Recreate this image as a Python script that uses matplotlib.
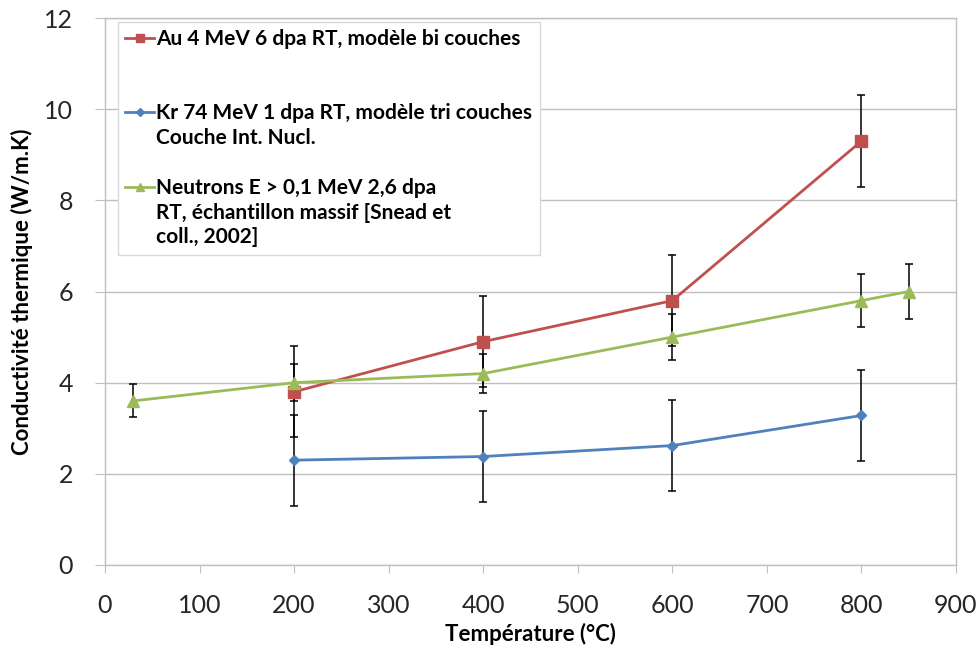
import numpy as np
import matplotlib
matplotlib.use('Agg')
import matplotlib.pyplot as plt
from matplotlib.lines import Line2D

plt.rcParams['font.family'] = ['Lato', 'DejaVu Sans']

# Conductivité thermique en fonction de la température
temp_au = [200, 400, 600, 800]
k_au = [3.8, 4.9, 5.8, 9.3]
err_au = [1.0, 1.0, 1.0, 1.0]

temp_kr = [200, 400, 600, 800]
k_kr = [2.3, 2.38, 2.62, 3.28]
err_kr = [1.0, 1.0, 1.0, 1.0]

temp_n = [30, 200, 400, 600, 800, 850]
k_n = [3.6, 4.0, 4.2, 5.0, 5.8, 6.0]
err_n = [0.36, 0.4, 0.42, 0.5, 0.58, 0.6]

label_au = 'Au 4 MeV 6 dpa RT, modèle bi couches'
label_kr = ['Kr 74 MeV 1 dpa RT, modèle tri couches', 'Couche Int. Nucl.']
label_n = ['Neutrons E > 0,1 MeV 2,6 dpa', 'RT, échantillon massif [Snead et', 'coll., 2002]']

x_ticks = np.arange(0, 1000, 100)
y_ticks = np.arange(0, 14, 2)

c_red = '#C0504D'
c_blue = '#4F81BD'
c_green = '#9BBB59'
c_axis = '#BFBFBF'

fig = plt.figure(figsize=(9.79, 6.54), dpi=100)
ax = fig.add_axes([105 / 979, 89 / 654, 851 / 979, 547 / 654])

err_kw = dict(ecolor='black', elinewidth=1.1, capsize=3, capthick=1.1, lw=2)
ax.errorbar(temp_au, k_au, yerr=err_au, color=c_red, marker='s', ms=8, **err_kw)
ax.errorbar(temp_kr, k_kr, yerr=err_kr, color=c_blue, marker='D', ms=5, **err_kw)
ax.errorbar(temp_n, k_n, yerr=err_n, color=c_green, marker='^', ms=8, **err_kw)

ax.set_xlim(0, 900)
ax.set_ylim(0, 12)
ax.set_xticks(x_ticks)
ax.set_yticks(y_ticks)
ax.yaxis.grid(True, color=c_axis, lw=1)
ax.set_axisbelow(True)
for s in ax.spines.values():
    s.set_color(c_axis)
    s.set_linewidth(1)
ax.tick_params(axis='x', direction='out', length=6, color=c_axis, labelsize=18, pad=15, labelcolor='#262626')
ax.tick_params(axis='y', direction='out', length=7, color=c_axis, labelsize=18, pad=16, labelcolor='#262626')

ax.set_xlabel('Température (°C)', fontsize=16, fontweight='bold', labelpad=4)
ax.set_ylabel('Conductivité thermique (W/m.K)', fontsize=16, fontweight='bold', labelpad=8)

# légende : une ligne de texte par entrée, poignées invisibles pour les suites
blank = Line2D([], [], linestyle='none')
handles = [
    Line2D([], [], color=c_red, marker='s', ms=6, lw=2),
    blank, blank,
    Line2D([], [], color=c_blue, marker='D', ms=4, lw=2),
    blank, blank,
    Line2D([], [], color=c_green, marker='^', ms=6, lw=2),
    blank, blank,
]
labels = [label_au, '', '', label_kr[0], label_kr[1], '', label_n[0], label_n[1], label_n[2]]
leg = ax.legend(handles, labels, loc='upper left', bbox_to_anchor=(0.015, 0.993),
                borderaxespad=0, prop={'size': 15, 'weight': 'bold'},
                handlelength=1.4, handletextpad=0.1, labelspacing=0.23, borderpad=0.35,
                frameon=True, fancybox=False, edgecolor='#D9D9D9', framealpha=1)
leg.get_frame().set_linewidth(1)

fig.savefig('out.png', dpi=100)
